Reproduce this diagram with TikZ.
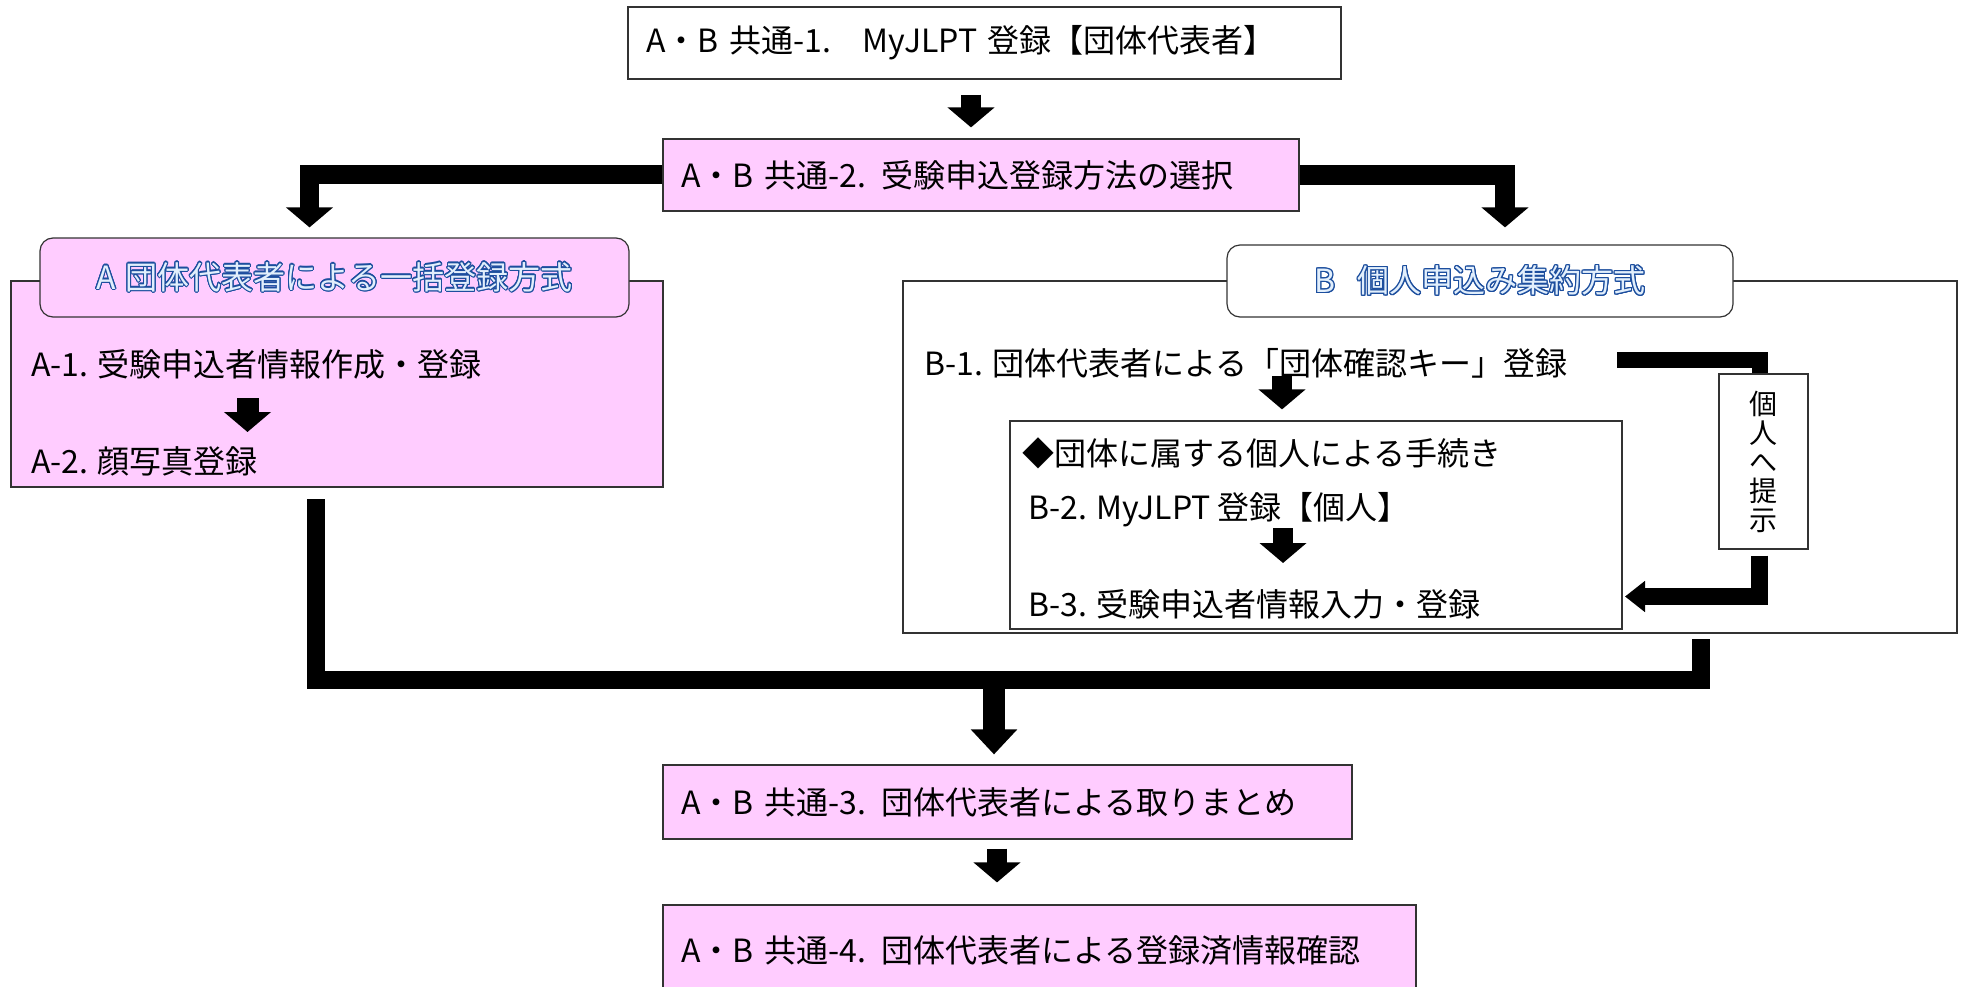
\documentclass[tikz,border=0pt]{standalone}
\usepackage{fontspec}
\setmainfont{Noto Sans CJK JP}
\usepackage{xcolor}
\usepackage{contour}
\usetikzlibrary{arrows.meta}
\definecolor{pinkbox}{RGB}{255,204,255}
\definecolor{titleblue}{RGB}{28,78,158}
\definecolor{titlefill}{RGB}{226,239,252}
\contourlength{1.1pt}

\begin{document}
\begin{tikzpicture}[x=1pt,y=-1pt,
    box/.style={draw=black!80,line width=1.2pt,inner xsep=18pt,inner ysep=0pt,align=left,font=\fontsize{32}{38}\selectfont},
    frame/.style={draw=black!80,line width=1.2pt,inner sep=0pt},
    titlebox/.style={draw=black!80,line width=1.2pt,rounded corners=13pt,inner sep=0pt,text=titlefill,font=\fontsize{32}{38}\selectfont},
    steptext/.style={anchor=west,inner sep=0pt,font=\fontsize{32}{38}\selectfont},
    fatarrow/.style={line width=20pt,-{Triangle[width=46pt,length=20pt]}},
    fatbar/.style={line width=18pt}]

    % Page
    \useasboundingbox (0,0) rectangle (1961,987);
    \fill[white] (0,0) rectangle (1961,987);

    % Common steps (top)
    \node[box,fill=white,text width=677pt,minimum height=72pt] (kyotsu1) at (984.5,43) {A・B 共通-1.　MyJLPT 登録【団体代表者】};
    \node[box,fill=pinkbox,text width=600pt,minimum height=72pt] (kyotsu2) at (981,175) {A・B 共通-2. 受験申込登録方法の選択};

    % Method A
    \node[frame,fill=pinkbox,minimum width=652pt,minimum height=206pt] (methodA) at (337,384) {};
    \node[titlebox,fill=pinkbox,minimum width=589pt,minimum height=79pt] (titleA) at (334.5,277.5) {\contour{titleblue}{A\hspace{0.3em}団体代表者による一括登録方式}};
    \node[steptext] (stepA1) at (31,364) {A-1. 受験申込者情報作成・登録};
    \node[steptext] (stepA2) at (31,461) {A-2. 顔写真登録};

    % Method B
    \node[frame,fill=white,minimum width=1054pt,minimum height=352pt] (methodB) at (1430,457) {};
    \node[titlebox,fill=white,minimum width=506pt,minimum height=72pt] (titleB) at (1480,281) {\contour{titleblue}{B\hspace{0.7em}個人申込み集約方式}};
    \node[steptext] (stepB1) at (924,363) {B-1. 団体代表者による「団体確認キー」登録};
    \node[frame,fill=white,minimum width=612pt,minimum height=208pt] (kojin) at (1316,525) {};
    \node[steptext] (tetsuzuki) at (1022,453) {◆団体に属する個人による手続き};
    \node[steptext] (stepB2) at (1028,510) {B-2. MyJLPT 登録【個人】};
    \node[steptext] (stepB3) at (1028,604) {B-3. 受験申込者情報入力・登録};
    \node[frame,fill=white,minimum width=89pt,minimum height=175pt,align=center,font=\fontsize{28}{29}\selectfont] (teiji) at (1763.5,461.5) {個\\人\\へ\\提\\示};

    % Common steps (bottom)
    \node[box,fill=pinkbox,text width=653pt,minimum height=74pt] (kyotsu3) at (1007.5,802) {A・B 共通-3. 団体代表者による取りまとめ};
    \node[box,fill=pinkbox,text width=717pt,minimum height=90pt] (kyotsu4) at (1039.5,950) {A・B 共通-4. 団体代表者による登録済情報確認};

    % Free ends
    \coordinate (a1out) at (247.5,398);
    \coordinate (a2in) at (247.5,432);
    \coordinate (b2out) at (1283,528);
    \coordinate (b3top) at (1283,563);
    \coordinate (keyend) at (1617,360);
    \coordinate (b3in) at (1625,596.5);
    \coordinate (fromA) at (315.5,499);
    \coordinate (fromB) at (1700.5,639);
    \coordinate (merge) at (994,680);

    % Arrows
    \draw[fatarrow,shorten <=15pt,shorten >=11pt] ([xshift=-13.5pt]kyotsu1.south) -- ([xshift=-13.5pt]kyotsu1.south |- kyotsu2.north);
    \draw[fatarrow,line width=19pt] (kyotsu2.west) -| ([xshift=-25pt,yshift=10pt]titleA.north);
    \draw[fatarrow] (kyotsu2.east) -| ([xshift=25pt,yshift=17pt]titleB.north);
    \draw[fatarrow,line width=22pt] (a1out) -- (a2in);
    \draw[fatarrow,shorten >=11pt] ([xshift=-34pt,yshift=44pt]kojin.north) -- ([xshift=-34pt]kojin.north);
    \draw[fatarrow] (b2out) -- (b3top);
    \draw[line width=16pt] (keyend) -| ([xshift=-4pt]teiji.north);
    \draw[line width=17pt,-{Triangle[width=30pt,length=20pt]}] ([xshift=-4pt,yshift=-6pt]teiji.south) |- (b3in);

    % Merge
    \draw[fatbar] (fromA) |- (merge) -| (fromB);
    \draw[fatarrow,line width=22pt,-{Triangle[width=45pt,length=25pt]},shorten >=10pt] (merge) -- (merge |- kyotsu3.north);
    \draw[fatarrow,shorten <=9pt,shorten >=22pt] ([xshift=-10.5pt]kyotsu3.south) -- ([xshift=-10.5pt]kyotsu3.south |- kyotsu4.north);
\end{tikzpicture}
\end{document}
